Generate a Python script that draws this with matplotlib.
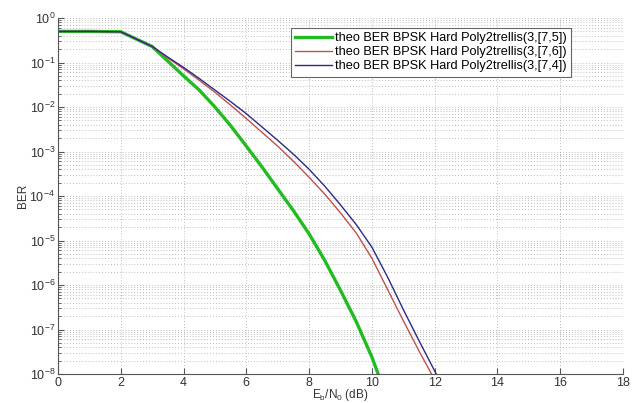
import matplotlib
matplotlib.use("Agg")
import matplotlib.pyplot as plt
import numpy as np
from matplotlib.ticker import LogLocator, FixedLocator, NullFormatter

plt.rcParams['font.family'] = ['Liberation Sans', 'DejaVu Sans']
plt.rcParams['mathtext.fontset'] = 'custom'
plt.rcParams['mathtext.rm'] = 'Liberation Sans'
plt.rcParams['mathtext.it'] = 'Liberation Sans:italic'

# Eb/N0 (dB) and BER
ebn0_75 = [0, 1, 2, 3, 3.5, 4, 4.5, 5, 5.5, 6, 6.5, 7, 7.5, 8, 8.5, 9, 9.5, 10, 10.2]
ber_75 = [0.5, 0.5, 0.49, 2.29e-1, 1.07e-1, 5.01e-2, 2.40e-2, 1.00e-2, 3.80e-3, 1.32e-3,
          4.47e-4, 1.45e-4, 4.68e-5, 1.41e-5, 3.55e-6, 7.59e-7, 1.51e-7, 2.40e-8, 1e-8]

ebn0_76 = [0, 1, 2, 3, 3.5, 4, 4.5, 5, 5.5, 6, 6.5, 7, 7.5, 8, 8.5, 9, 9.5, 10, 10.5, 11, 11.5, 11.9]
ber_76 = [0.5, 0.5, 0.49, 2.29e-1, 1.26e-1, 7.24e-2, 3.98e-2, 2.14e-2, 1.10e-2, 5.50e-3,
          2.69e-3, 1.32e-3, 6.03e-4, 2.63e-4, 1.10e-4, 4.17e-5, 1.48e-5, 3.98e-6, 7.94e-7,
          1.58e-7, 3.31e-8, 1e-8]

ebn0_74 = [0, 1, 2, 3, 3.5, 4, 4.5, 5, 5.5, 6, 6.5, 7, 7.5, 8, 8.5, 9, 9.5, 10, 10.5, 11, 11.5, 12.05]
ber_74 = [0.5, 0.5, 0.49, 2.29e-1, 1.32e-1, 7.76e-2, 4.37e-2, 2.40e-2, 1.32e-2, 7.08e-3,
          3.55e-3, 1.78e-3, 8.71e-4, 3.98e-4, 1.66e-4, 6.31e-5, 2.29e-5, 7.08e-6, 1.51e-6,
          2.82e-7, 5.62e-8, 1e-8]

labels = ["theo BER BPSK Hard Poly2trellis(3,[7,5])",
          "theo BER BPSK Hard Poly2trellis(3,[7,6])",
          "theo BER BPSK Hard Poly2trellis(3,[7,4])"]
xticks = [0, 2, 4, 6, 8, 10, 12, 14, 16, 18]

fig = plt.figure(figsize=(6.38, 4.03), dpi=100)
ax = fig.add_axes([58/638, 1-374/403, (623-58)/638, (374-18)/403])

ax.semilogy(ebn0_75, ber_75, color='#22bb22', lw=2.4, label=labels[0])
ax.semilogy(ebn0_76, ber_76, color='#c0504d', lw=1.0, label=labels[1])
ax.semilogy(ebn0_74, ber_74, color='#2a2a8a', lw=1.0, label=labels[2])

ax.set_xlim(0, 18)
ax.set_ylim(1e-8, 1)
ax.xaxis.set_major_locator(FixedLocator(xticks))
ax.yaxis.set_major_locator(LogLocator(base=10, numticks=20))
ax.yaxis.set_minor_locator(LogLocator(base=10, subs=np.arange(2, 10), numticks=100))
ax.yaxis.set_minor_formatter(NullFormatter())

grid_kw = dict(color='#a8a8a8', linestyle=(0, (1, 2.5)), linewidth=0.6)
ax.grid(True, which='major', axis='both', **grid_kw)
ax.grid(True, which='minor', axis='y', **grid_kw)

for s in ['top', 'right']:
    ax.spines[s].set_visible(False)
for s in ['left', 'bottom']:
    ax.spines[s].set_color('#555555')
    ax.spines[s].set_linewidth(0.8)

ax.tick_params(axis='both', which='both', direction='in', colors='#555555',
               labelcolor='#333333', labelsize=9, pad=2)
ax.tick_params(which='major', length=4)
ax.tick_params(which='minor', length=2)

ax.set_xlabel(r'E$_\mathregular{b}$/N$_\mathregular{0}$ (dB)', fontsize=8.5,
              color='#333333', labelpad=-1)
ax.set_ylabel('BER', fontsize=8.5, color='#333333', labelpad=0)

leg = ax.legend(loc='upper right', bbox_to_anchor=(571/638, 1-28/403),
                bbox_transform=fig.transFigure, fontsize=9.2, frameon=True,
                fancybox=False, edgecolor='#666666', framealpha=1,
                handlelength=2.9, borderpad=0.35, labelspacing=0.15,
                handletextpad=0.2, borderaxespad=0)
leg.get_frame().set_linewidth(0.8)

fig.savefig('out.png', dpi=100)
